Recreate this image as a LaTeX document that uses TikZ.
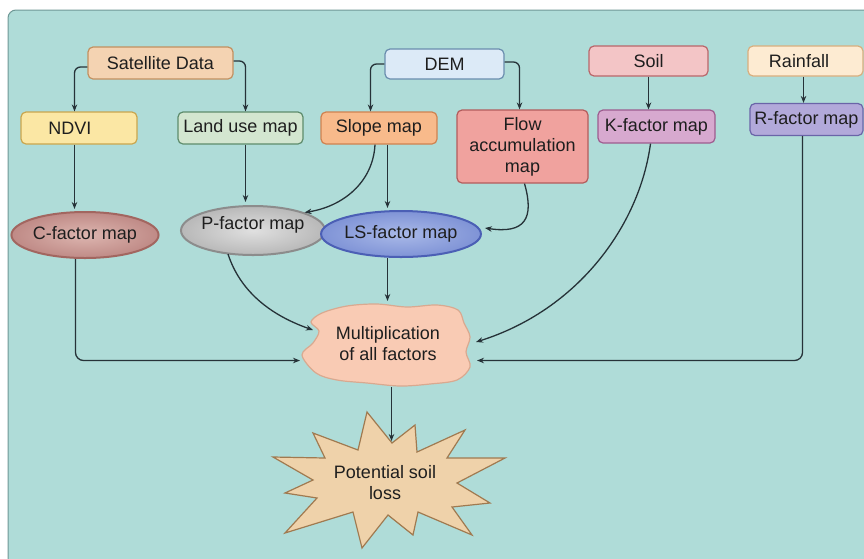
\documentclass[tikz,border=0pt]{standalone}
\usepackage{fontspec}
\setmainfont{Liberation Sans}
\usetikzlibrary{arrows.meta,shapes.geometric}

\definecolor{bgfill}{HTML}{AFDCD8}
\definecolor{bgline}{HTML}{6F9896}
\definecolor{wire}{HTML}{263238}
\definecolor{ink}{HTML}{1E1E1E}
\definecolor{satF}{HTML}{F4D3B2}\definecolor{satD}{HTML}{C29060}
\definecolor{demF}{HTML}{DCEAF7}\definecolor{demD}{HTML}{6A8DAE}
\definecolor{soilF}{HTML}{F3C5C6}\definecolor{soilD}{HTML}{B9666A}
\definecolor{rainF}{HTML}{FDEBD2}\definecolor{rainD}{HTML}{D9AE7E}
\definecolor{ndviF}{HTML}{FBE7A4}\definecolor{ndviD}{HTML}{C9A64E}
\definecolor{landF}{HTML}{D3E6D0}\definecolor{landD}{HTML}{5E8C6C}
\definecolor{slopeF}{HTML}{F8BA8B}\definecolor{slopeD}{HTML}{CF8250}
\definecolor{flowF}{HTML}{F0A29E}\definecolor{flowD}{HTML}{B35C5C}
\definecolor{kF}{HTML}{D7A9CF}\definecolor{kD}{HTML}{9E5C8F}
\definecolor{rF}{HTML}{B2A9DA}\definecolor{rD}{HTML}{6A64A8}
\definecolor{cIn}{HTML}{DDB6B0}\definecolor{cOut}{HTML}{BF8A86}\definecolor{cD}{HTML}{A26660}
\definecolor{pIn}{HTML}{E0E0E0}\definecolor{pOut}{HTML}{B8B8B8}\definecolor{pD}{HTML}{8C8C8C}
\definecolor{lsIn}{HTML}{A9B9E8}\definecolor{lsOut}{HTML}{7F93D6}\definecolor{lsD}{HTML}{4B5FB5}
\definecolor{cloudF}{HTML}{F9CBB4}\definecolor{cloudD}{HTML}{D9A990}
\definecolor{starF}{HTML}{EFD2AA}\definecolor{starD}{HTML}{A07A50}

\tikzset{
  txt/.style={font=\fontsize{18}{21}\selectfont, text=ink, align=center, inner sep=0pt},
  box/.style={txt, rectangle, rounded corners=5pt, line width=1.2pt, minimum height=32pt},
  oval/.style={txt, ellipse, line width=2pt, inner sep=0pt},
  conn/.style={draw=wire, line width=1.3pt, -{Stealth[length=7pt,width=5.5pt]}},
}

\begin{document}
\begin{tikzpicture}[x=1pt,y=-1pt]
\useasboundingbox (0,0) rectangle (864,558);
\fill[white] (0,0) rectangle (864,558);
% panel
\draw[fill=bgfill, draw=bgline, line width=1pt, rounded corners=8pt] (8,10) rectangle (885,580);

% source boxes
\node[box, fill=satF, draw=satD, minimum width=145pt] (sat) at (160.5,63) {Satellite Data};
\node[box, fill=demF, draw=demD, minimum width=119pt, minimum height=30pt] (dem) at (444.5,64) {DEM};
\node[box, fill=soilF, draw=soilD, minimum width=119pt, minimum height=30pt] (soil) at (648.5,61) {Soil};
\node[box, fill=rainF, draw=rainD, minimum width=115pt, minimum height=30pt] (rain) at (805.5,61) {};
\node[txt] at (799,61) {Rainfall};

% derived layers
\node[box, fill=ndviF, draw=ndviD, minimum width=116pt] (ndvi) at (79,128) {};
\node[txt] at (70,128) {NDVI};
\node[box, fill=landF, draw=landD, minimum width=125pt] (land) at (240.5,128) {Land use map};
\node[box, fill=slopeF, draw=slopeD, minimum width=116pt] (slope) at (379,128) {Slope map};
\node[box, fill=flowF, draw=flowD, minimum width=131pt, minimum height=73pt] (flow) at (522.5,146.5) {Flow\\accumulation\\map};
\node[box, fill=kF, draw=kD, minimum width=117pt, minimum height=33pt] (kfac) at (656.5,126.5) {K-factor map};
\node[box, fill=rF, draw=rD, minimum width=113pt] (rfac) at (806.5,119.5) {R-factor map};

% factor maps
\node[oval, draw=cD, inner color=cIn, outer color=cOut, minimum width=146pt, minimum height=46pt] (cfac) at (85,235) {C-factor map};
\node[oval, draw=pD, inner color=pIn, outer color=pOut, minimum width=144pt, minimum height=49pt] (pfac) at (253,230.5) {};
\node[txt] at (253,225) {P-factor map};
\node[oval, draw=lsD, inner color=lsIn, outer color=lsOut, minimum width=144pt, minimum height=46pt] (lsfac) at (401,234) {LS-factor map};

% combination cloud
\draw[fill=cloudF, draw=cloudD, line width=1.2pt]
  plot[smooth cycle, tension=0.55] coordinates {
    (322,313) (347,306) (377,304) (407,307) (437,305) (458,310)
    (464,323) (470,337) (466,352) (470,367) (457,380) (430,384)
    (400,386) (367,383) (337,380) (316,373) (302,355) (313,343)
    (319,331) (311,322)};
\node[txt] (mult) at (388,344) {Multiplication\\of all factors};

% result starburst
\draw[fill=starF, draw=starD, line width=1.2pt, line join=miter]
  (367,412) -- (392,443) -- (415,425) -- (417,452) -- (465,430) -- (447,458)
  -- (505,458) -- (457,483) -- (490,503) -- (452,507) -- (472,535) -- (418,512)
  -- (413,535) -- (388,515) -- (362,548) -- (353,512) -- (285,533) -- (317,498)
  -- (285,493) -- (313,480) -- (273,457) -- (325,458) -- (313,433) -- (358,450)
  -- cycle;
\node[txt] (loss) at (385,482.5) {Potential soil\\loss};
\coordinate (losstop) at (391.5,441);

% anchors on the cloud outline
\coordinate (multW) at (300,360.5);
\coordinate (multE) at (477,360.5);
\coordinate (multNW) at (313,330);
\coordinate (multNE) at (476,342);
\coordinate (multN) at (387.5,301);
\coordinate (multS) at (391.5,387);

% connectors
\draw[conn, rounded corners=6pt] ([yshift=-4pt]sat.west) -| ([xshift=-4.5pt]ndvi.north);
\draw[conn, rounded corners=6pt] ([yshift=2pt]sat.east) -| ([xshift=5pt]land.north);
\draw[conn, rounded corners=6pt] (dem.west) -| ([xshift=-8.5pt]slope.north);
\draw[conn, rounded corners=6pt] ([yshift=2pt]dem.east) -| ([xshift=-3pt]flow.north);
\draw[conn] (soil.south) -- (kfac.north -| soil.south);
\draw[conn] ([xshift=-2pt]rain.south) -- ([xshift=-2pt]rain.south |- rfac.north);

\draw[conn] ([xshift=-4.5pt]ndvi.south) -- ([xshift=-4.5pt,yshift=2pt]ndvi.south |- cfac.north);
\draw[conn] ([xshift=5pt]land.south) -- ([xshift=5pt,yshift=3pt]land.south |- pfac.north);
\draw[conn] ([xshift=-4pt]slope.south) .. controls +(-2,38) and +(38,-6) .. (pfac.north east);
\draw[conn] ([xshift=8.5pt]slope.south) -- ([xshift=8.5pt,yshift=2pt]slope.south |- lsfac.north);
\draw[conn] ([xshift=2pt]flow.south) .. controls +(10,35) and +(40,6) .. ([xshift=3pt,yshift=6pt]lsfac.east);

\draw[conn, rounded corners=8pt] ([xshift=-9.5pt]cfac.south) |- (multW);
\draw[conn] ([xshift=-25pt,yshift=2pt]pfac.south) .. controls +(12,37) and +(-43,-15) .. (multNW);
\draw[conn] ([xshift=-13.5pt]lsfac.south) -- (multN);
\draw[conn] ([xshift=-6pt]kfac.south) .. controls +(-11,82) and +(102,-32) .. (multNE);
\draw[conn, rounded corners=8pt] ([xshift=-4pt]rfac.south) |- (multE);
\draw[conn] (multS) -- (losstop);
\end{tikzpicture}
\end{document}
